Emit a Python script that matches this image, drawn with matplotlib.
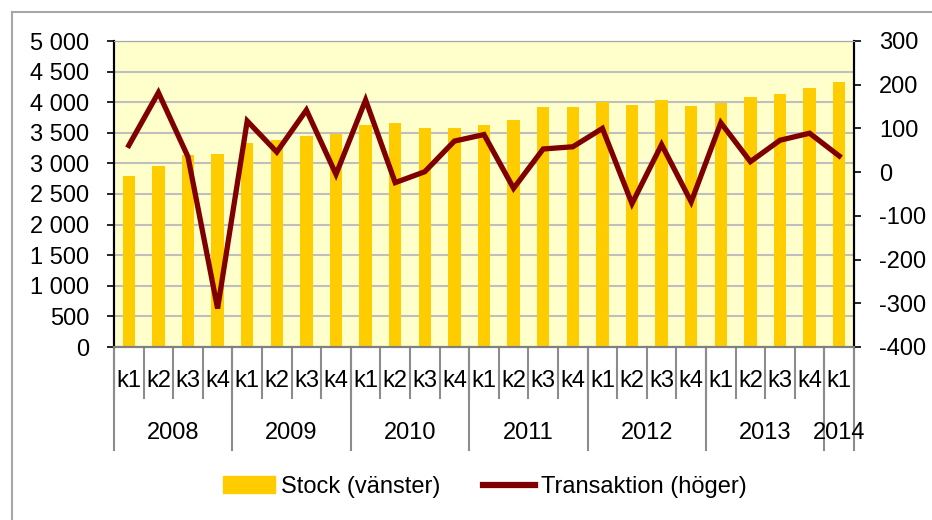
import matplotlib
matplotlib.use("Agg")
import matplotlib.pyplot as plt
from matplotlib.lines import Line2D
from matplotlib.patches import Patch, Rectangle
from matplotlib.ticker import FuncFormatter, MultipleLocator

plt.rcParams['font.family'] = ['Liberation Sans', 'DejaVu Sans']
plt.rcParams['axes.unicode_minus'] = False

quarters = ['k1', 'k2', 'k3', 'k4'] * 6 + ['k1']
years = ['2008', '2009', '2010', '2011', '2012', '2013', '2014']
year_len = [4, 4, 4, 4, 4, 4, 1]

stock = [2800, 2960, 3130, 3155, 3335, 3380, 3455, 3485, 3635, 3655, 3585, 3575,
         3620, 3710, 3920, 3915, 4010, 3955, 4030, 3940, 3985, 4090, 4140, 4230, 4325]
transaktion = [61, 182, 35, -312, 117, 46, 142, -5, 165, -24, 1, 71,
               86, -37, 53, 58, 100, -72, 63, -68, 113, 24, 73, 89, 37]

fs = 17
fig = plt.figure(figsize=(9.32, 5.2), dpi=100)
ax = fig.add_axes([114 / 932, 1 - 347 / 520, 740 / 932, 306 / 520])
ax2 = ax.twinx()

x = list(range(len(stock)))
ax.set_facecolor('#FFFFCC')
ax.bar(x, stock, width=0.42, color='#FFCC00', zorder=2)
ax.set_axisbelow(True)
ax.yaxis.grid(True, color='#BFBFBF', lw=1.5)
ax.set_xlim(-0.5, len(stock) - 0.5)
ax.set_ylim(0, 5000)
ax.yaxis.set_major_locator(MultipleLocator(500))
ax.yaxis.set_major_formatter(FuncFormatter(lambda v, p: f"{int(v):,}".replace(",", " ")))
ax.tick_params(axis='y', direction='out', length=5, width=1.2, pad=13, labelsize=fs)
ax.tick_params(axis='x', bottom=False, labelbottom=False)

ax2.plot(x, transaktion, color='#800000', lw=3.8, solid_joinstyle='miter', zorder=3)
ax2.set_ylim(-400, 300)
ax2.yaxis.set_major_locator(MultipleLocator(100))
ax2.tick_params(axis='y', direction='out', length=5, width=1.2, pad=13, labelsize=fs)

for a in (ax, ax2):
    a.spines['left'].set_color('black')
    a.spines['left'].set_linewidth(1.5)
    a.spines['right'].set_color('black')
    a.spines['right'].set_linewidth(1.5)
    a.spines['top'].set_color('#A6A6A6')
    a.spines['bottom'].set_color('#808080')
    a.spines['bottom'].set_linewidth(1.5)

# multi-level category axis
tr = ax.get_xaxis_transform()
for i, q in enumerate(quarters):
    ax.text(i, -0.112, q, transform=tr, ha='center', va='center', fontsize=fs)
for i in range(len(quarters) + 1):
    ax.add_line(Line2D([i - 0.5, i - 0.5], [0, -0.167], transform=tr,
                       color='#8C8C8C', lw=1.5, clip_on=False))
start = 0
for y, n in zip(years, year_len):
    ax.text(start + (n - 1) / 2, -0.281, y, transform=tr, ha='center', va='center', fontsize=fs)
    ax.add_line(Line2D([start - 0.5, start - 0.5], [0, -0.337], transform=tr,
                       color='#8C8C8C', lw=1.5, clip_on=False))
    start += n
ax.add_line(Line2D([start - 0.5, start - 0.5], [0, -0.337], transform=tr,
                   color='#8C8C8C', lw=1.5, clip_on=False))

handles = [Patch(color='#FFCC00'), Line2D([], [], color='#800000', lw=4.5)]
fig.legend(handles, ['Stock (vänster)', 'Transaktion (höger)'], loc='center',
           bbox_to_anchor=(485 / 932, 1 - 487 / 520), ncol=2, frameon=False,
           fontsize=fs, handlelength=2.2, handletextpad=0.25, columnspacing=1.8)

fig.patches.append(Rectangle((12 / 932, -0.1), 1.2, 1.1 - 12 / 520, transform=fig.transFigure,
                             fill=False, edgecolor='#A6A6A6', lw=1.5))

fig.savefig('out.png', dpi=100)
